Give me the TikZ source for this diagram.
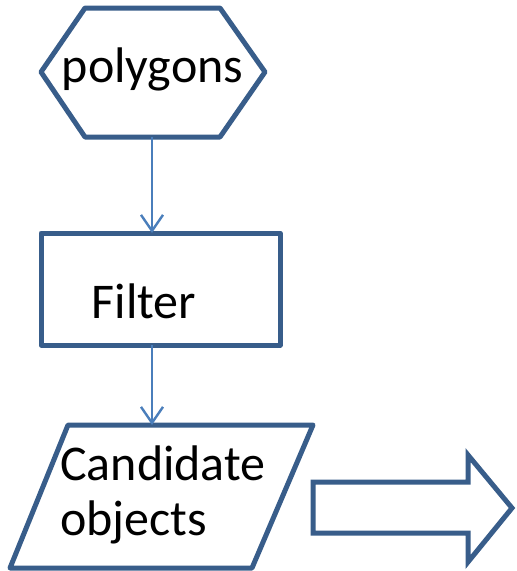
\documentclass[tikz,border=0pt]{standalone}
\usepackage{fontspec}
\setmainfont{Carlito}
\usetikzlibrary{arrows.meta}
\definecolor{shapeblue}{HTML}{385D8A}
\definecolor{linkblue}{HTML}{4A7EBB}
\tikzset{
  shapeline/.style={draw=shapeblue, line width=5pt, line join=round, fill=white},
  link/.style={draw=linkblue, line width=2.4pt, -{Straight Barb[length=16pt,width=22pt,line width=2.4pt]}},
  label/.style={inner sep=0pt, font=\fontsize{50}{55}\selectfont, text=black}
}
\begin{document}
\begin{tikzpicture}[x=1pt,y=-1pt]
\useasboundingbox (0,0) rectangle (517,571);
% hexagon
\draw[shapeline] (85,8) -- (220,8) -- (265,72) -- (220,137) -- (85,137) -- (41,72) -- cycle;
\node[label, anchor=base] (polytext) at (152.5,82) {polygons};
\coordinate (polyS) at (152,137);
% rectangle
\node[shapeline, minimum width=239pt, minimum height=112pt, inner sep=0pt] (filter) at (160.5,289) {};
\node[label, anchor=base] (filtertext) at (144,318) {Filter};
\coordinate (filterTop) at (152,233);
\coordinate (filterBot) at (152,345);
% parallelogram
\draw[shapeline] (68,425) -- (313,425) -- (252,568) -- (10,568) -- cycle;
\node[label, anchor=base west, align=left] (candtext) at (60,535) {Candidate\\objects};
\coordinate (candTop) at (152,425);
% block arrow
\draw[shapeline, line join=miter] (313,482) -- (468,482) -- (468,455) -- (512,508) -- (468,562) -- (468,533) -- (313,533) -- cycle;
% connectors
\draw[link] (polyS) -- (filterTop);
\draw[link] (filterBot) -- (candTop);
\end{tikzpicture}
\end{document}
